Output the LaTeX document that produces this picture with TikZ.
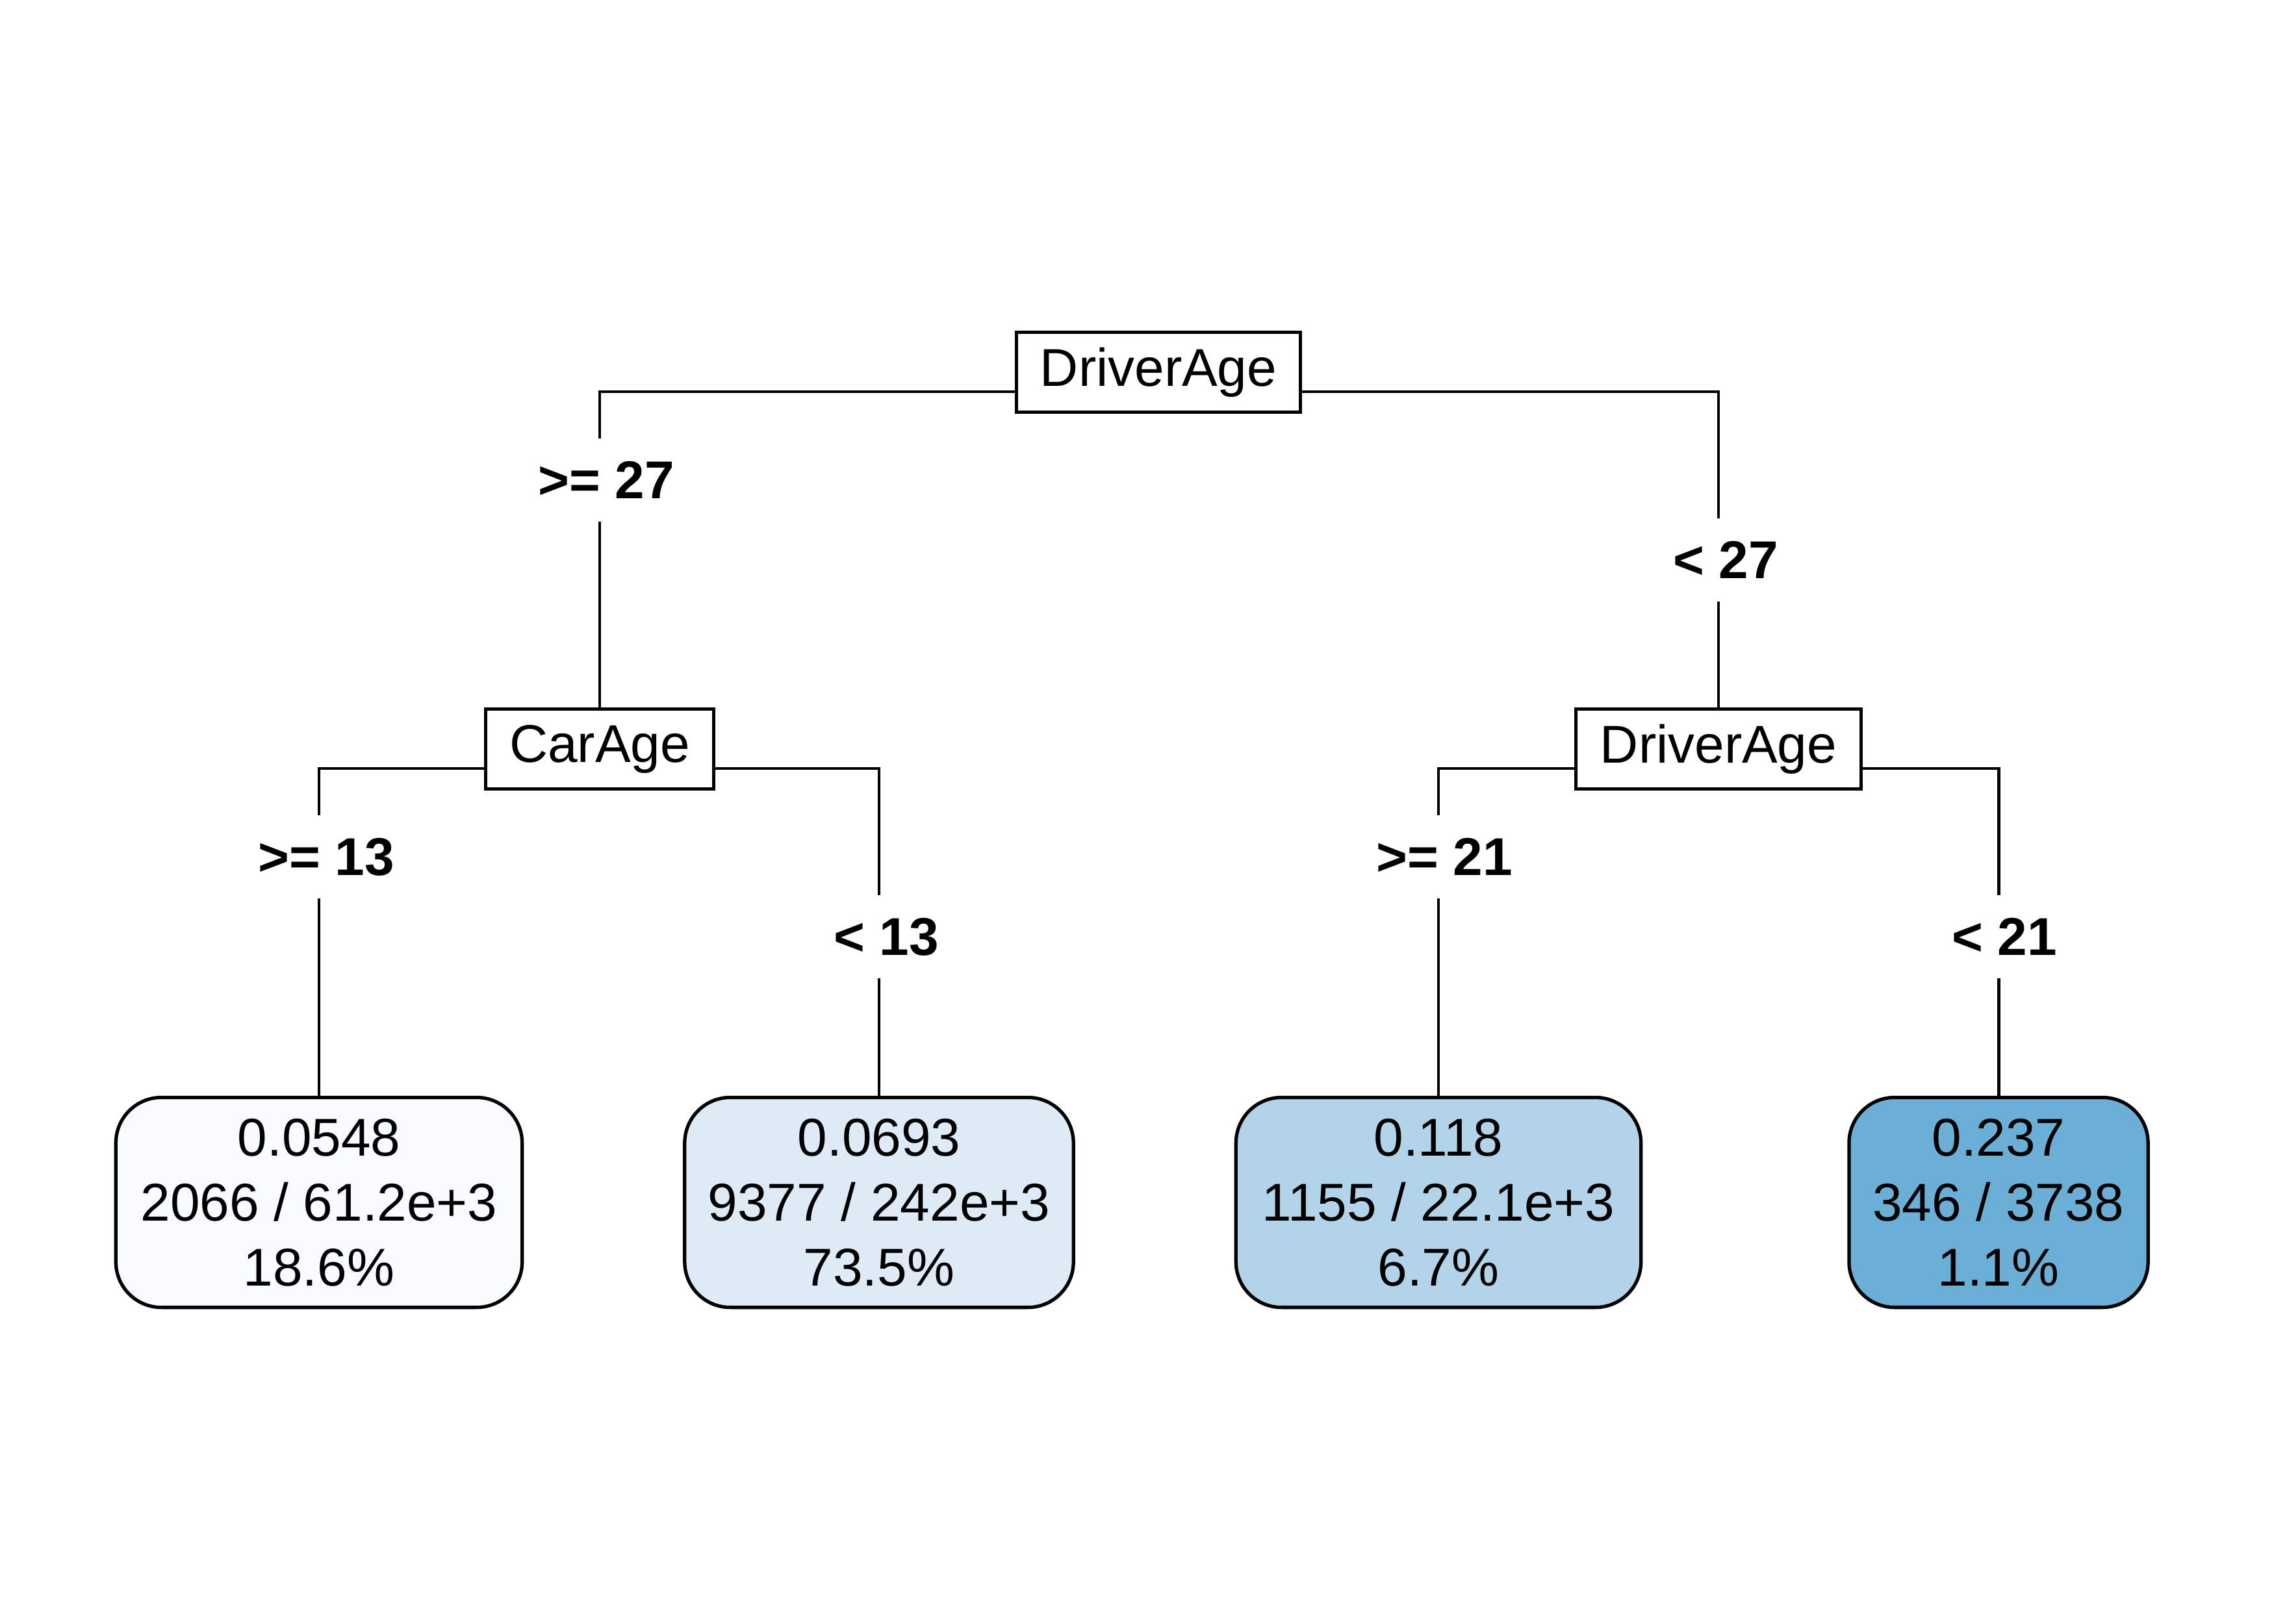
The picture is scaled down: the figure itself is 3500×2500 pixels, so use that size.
\documentclass[tikz,border=0pt]{standalone}
\usepackage{fontspec}
\setmainfont{Liberation Sans}
\newcommand\treefont{\fontsize{23.3}{28.45}\selectfont}
\definecolor{leafA}{HTML}{F7FBFF}
\definecolor{leafB}{HTML}{DEEBF7}
\definecolor{leafC}{HTML}{B3D3E8}
\definecolor{leafD}{HTML}{6BAED6}
\begin{document}
\begin{tikzpicture}[x=0.01cm,y=-0.01cm,
  split/.style={draw, line width=1.4pt, fill=white, minimum height=1.23cm,
    inner sep=0pt, font=\treefont},
  leaf/.style={draw, line width=1.5pt, rounded corners=0.7cm,
    minimum height=3.23cm, inner sep=0pt, align=center, font=\treefont},
  cond/.style={fill=white, inner xsep=3pt, inner ysep=0pt,
    minimum height=1.27cm, font=\treefont\bfseries},
  edge/.style={line width=1.4pt}]
  \useasboundingbox (0,0) rectangle (3500,2500);

  % split nodes
  \node[split, minimum width=4.37cm] (root) at (1783,573) {DriverAge};
  \node[split, minimum width=3.50cm] (car)  at (923,1153) {CarAge};
  \node[split, minimum width=4.38cm] (drv)  at (2645,1153) {DriverAge};

  % leaves
  \node[leaf, fill=leafA, minimum width=6.25cm] (l1) at (491,1851)
    {0.0548\\2066 / 61.2e+3\\18.6\%};
  \node[leaf, fill=leafB, minimum width=5.98cm] (l2) at (1353,1851)
    {0.0693\\9377 / 242e+3\\73.5\%};
  \node[leaf, fill=leafC, minimum width=6.23cm] (l3) at (2214,1851)
    {0.118\\1155 / 22.1e+3\\6.7\%};
  \node[leaf, fill=leafD, minimum width=4.60cm] (l4) at (3076,1851)
    {0.237\\346 / 3738\\1.1\%};

  % branches
  \draw[edge] ([yshift=-0.3cm]root.west) -| (car.north);
  \draw[edge] ([yshift=-0.3cm]root.east) -| (drv.north);
  \draw[edge] ([yshift=-0.3cm]car.west) -| (l1.north);
  \draw[edge] ([yshift=-0.3cm]car.east) -| (l2.north);
  \draw[edge] ([yshift=-0.3cm]drv.west) -| (l3.north);
  \draw[edge] ([yshift=-0.3cm]drv.east) -| (l4.north);

  % split conditions
  \node[cond] (c1) at (933,739)   {>= 27};
  \node[cond] (c2) at (2656,862)  {< 27};
  \node[cond] (c3) at (502,1319)  {>= 13};
  \node[cond] (c4) at (1364,1442) {< 13};
  \node[cond] (c5) at (2223,1319) {>= 21};
  \node[cond] (c6) at (3085,1442) {< 21};
\end{tikzpicture}
\end{document}
